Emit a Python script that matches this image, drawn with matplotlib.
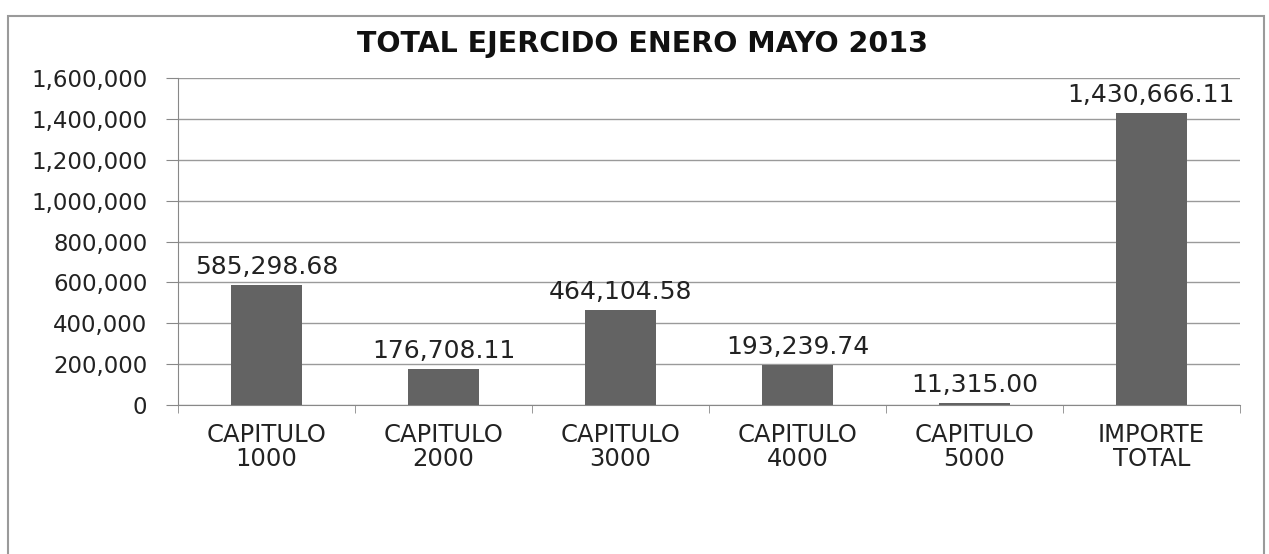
import matplotlib.pyplot as plt
from matplotlib.patches import Rectangle
from matplotlib.ticker import FuncFormatter, FixedLocator

categorias = ['CAPITULO\n1000', 'CAPITULO\n2000', 'CAPITULO\n3000',
              'CAPITULO\n4000', 'CAPITULO\n5000', 'IMPORTE\nTOTAL']
importes = [585298.68, 176708.11, 464104.58, 193239.74, 11315.00, 1430666.11]
titulo = 'TOTAL EJERCIDO ENERO MAYO 2013'

plt.rcParams['font.family'] = ['DejaVu Sans']

fig = plt.figure(figsize=(12.69, 5.54), dpi=100)
ax = fig.add_axes([0.1403, 0.269, 0.8367, 0.59])

# marco del grafico
fig.patches.append(Rectangle((0.006, -0.02), 0.99, 0.992, transform=fig.transFigure,
                             fill=False, edgecolor='#9a9a9a', linewidth=1.5))

x = range(len(categorias))
bars = ax.bar(x, importes, width=0.4, color='#636363', zorder=3)

for b, v in zip(bars, importes):
    ax.text(b.get_x() + b.get_width() / 2, v + 30000, f'{v:,.2f}',
            ha='center', va='bottom', fontsize=18, color='#222222')

ax.set_xlim(-0.5, len(categorias) - 0.5)
ax.set_ylim(0, 1600000)
ax.set_yticks(range(0, 1600001, 200000))
ax.yaxis.set_major_formatter(FuncFormatter(lambda v, p: f'{int(v):,}'))
ax.set_xticks(list(x))
ax.set_xticklabels(categorias, fontsize=17.5, color='#222222', linespacing=1.0)
ax.xaxis.set_minor_locator(FixedLocator([i + 0.5 for i in range(-1, len(categorias))]))
ax.tick_params(axis='x', which='major', length=0, pad=13)
ax.tick_params(axis='x', which='minor', length=6, color='#888888')
ax.tick_params(axis='y', length=9, color='#888888', labelsize=16.5, labelcolor='#222222', pad=13)

ax.grid(axis='y', color='#9a9a9a', linewidth=1, zorder=0)
for s in ['top', 'right']:
    ax.spines[s].set_visible(False)
ax.spines['left'].set_color('#888888')
ax.spines['bottom'].set_color('#888888')

fig.text(0.506, 0.92, titulo, ha='center', va='center', fontsize=20.5, fontweight='bold',
         color='#111111')

fig.savefig('out.png', dpi=100)
